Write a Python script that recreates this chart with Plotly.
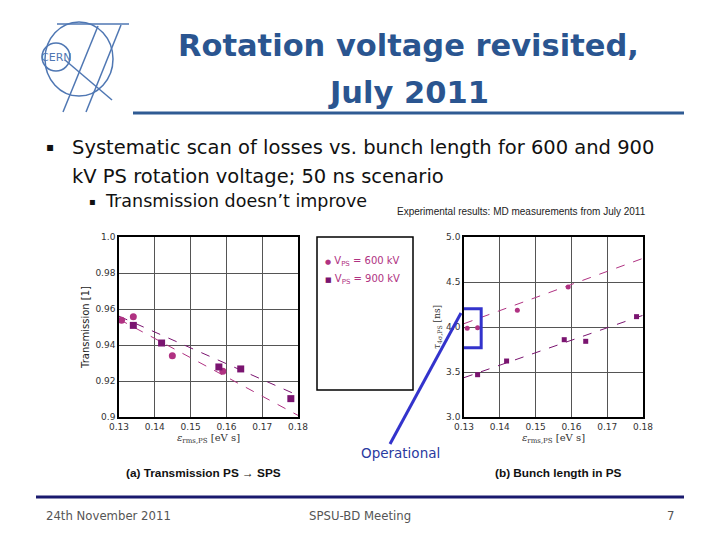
import numpy as np
import plotly.graph_objects as go

# ---------------- data ----------------
eps_600 = [0.1307, 0.1340, 0.1449, 0.1590]
trans_600 = [0.9537, 0.9557, 0.9340, 0.9254]
eps_900 = [0.1340, 0.1419, 0.1579, 0.1640, 0.1780]
trans_900 = [0.9509, 0.9411, 0.9278, 0.9267, 0.9102]

bl_eps_600 = [0.1309, 0.1338, 0.1449, 0.1591]
bl_600 = [3.985, 3.993, 4.185, 4.444]
bl_eps_900 = [0.1338, 0.1419, 0.1580, 0.1640, 0.1782]
bl_900 = [3.470, 3.622, 3.859, 3.841, 4.115]

# fitted trend lines
fit_x = [0.13, 0.18]
fit_trans_600 = [0.9543, 0.9009]
fit_trans_900 = [0.9560, 0.9120]
fit_bl_600 = [4.037, 4.763]
fit_bl_900 = [3.437, 4.130]

x_ticks = [0.13, 0.14, 0.15, 0.16, 0.17, 0.18]
x_ticklabels = ["0.13", "0.14", "0.15", "0.16", "0.17", "0.18"]
trans_ticks = [0.90, 0.92, 0.94, 0.96, 0.98, 1.0]
trans_ticklabels = ["0.9", "0.92", "0.94", "0.96", "0.98", "1.0"]
bl_ticks = [3.0, 3.5, 4.0, 4.5, 5.0]
bl_ticklabels = ["3.0", "3.5", "4.0", "4.5", "5.0"]

series_names = ["V<sub>PS</sub> = 600 kV", "V<sub>PS</sub> = 900 kV"]

# operational point box (data coords of right plot)
op_box_x = [0.1292, 0.1348]
op_box_y = [3.77, 4.204]

C600 = "#b03282"
C900 = "#7a1470"
W, H = 720, 540
OFF = 8  # page body margin


def px(x):
    return (x - OFF) / W


def py(y):
    return 1 - (y - OFF) / H


fig = go.Figure()

# left plot
fig.add_trace(go.Scatter(x=fit_x, y=fit_trans_600, mode="lines", line=dict(color=C600, dash="dash", width=1),
                         showlegend=False, xaxis="x", yaxis="y"))
fig.add_trace(go.Scatter(x=fit_x, y=fit_trans_900, mode="lines", line=dict(color=C900, dash="dash", width=1),
                         showlegend=False, xaxis="x", yaxis="y"))
fig.add_trace(go.Scatter(x=eps_600, y=trans_600, mode="markers", marker=dict(color=C600, size=7, symbol="circle"),
                         name=series_names[0], showlegend=False, xaxis="x", yaxis="y"))
fig.add_trace(go.Scatter(x=eps_900, y=trans_900, mode="markers", marker=dict(color=C900, size=7, symbol="square"),
                         name=series_names[1], showlegend=False, xaxis="x", yaxis="y"))

# right plot
fig.add_trace(go.Scatter(x=fit_x, y=fit_bl_600, mode="lines", line=dict(color=C600, dash="dash", width=1),
                         showlegend=False, xaxis="x2", yaxis="y2"))
fig.add_trace(go.Scatter(x=fit_x, y=fit_bl_900, mode="lines", line=dict(color=C900, dash="dash", width=1),
                         showlegend=False, xaxis="x2", yaxis="y2"))
fig.add_trace(go.Scatter(x=bl_eps_600, y=bl_600, mode="markers", marker=dict(color=C600, size=5, symbol="circle"),
                         name=series_names[0], showlegend=False, xaxis="x2", yaxis="y2"))
fig.add_trace(go.Scatter(x=bl_eps_900, y=bl_900, mode="markers", marker=dict(color=C900, size=5, symbol="square"),
                         name=series_names[1], showlegend=False, xaxis="x2", yaxis="y2"))

tickfont = dict(family="DejaVu Sans", size=9, color="#333")
axis_common = dict(showline=True, linecolor="black", linewidth=1.5, mirror=True, ticks="",
                   showgrid=True, gridcolor="#555", gridwidth=1, zeroline=False, tickfont=tickfont,
                   automargin=False)

fig.update_layout(
    width=W, height=H, margin=dict(l=0, r=0, t=0, b=0, autoexpand=False),
    paper_bgcolor="white", plot_bgcolor="white", showlegend=False,
    xaxis=dict(domain=[px(119), px(298)], range=[0.13, 0.18], tickvals=x_ticks, ticktext=x_ticklabels,
               anchor="y", title=dict(text="<i>ε</i><sub>rms,PS</sub> [eV s]", standoff=2,
                                      font=dict(family="DejaVu Serif", size=10, color="#333")),
               **axis_common),
    yaxis=dict(domain=[py(417), py(237)], range=[0.9, 1.0], tickvals=trans_ticks, ticktext=trans_ticklabels,
               anchor="x", title=dict(text="Transmission [1]", standoff=4,
                                      font=dict(family="DejaVu Sans", size=10, color="#222")),
               **axis_common),
    xaxis2=dict(domain=[px(464), px(643)], range=[0.13, 0.18], tickvals=x_ticks, ticktext=x_ticklabels,
                anchor="y2", title=dict(text="<i>ε</i><sub>rms,PS</sub> [eV s]", standoff=2,
                                        font=dict(family="DejaVu Serif", size=10, color="#333")),
                **axis_common),
    yaxis2=dict(domain=[py(417), py(237)], range=[3.0, 5.0], tickvals=bl_ticks, ticktext=bl_ticklabels,
                anchor="x2", title=dict(text="<i>τ</i><sub>4σ,PS</sub> [ns]", standoff=4,
                                        font=dict(family="DejaVu Serif", size=9, color="#333")),
                **axis_common),
)

shapes = []
# legend box
shapes.append(dict(type="rect", xref="paper", yref="paper", x0=px(317), x1=px(413), y0=py(390), y1=py(237),
                   line=dict(color="black", width=1.5)))
# operational box on right plot
shapes.append(dict(type="rect", xref="x2", yref="y2", x0=op_box_x[0], x1=op_box_x[1], y0=op_box_y[0],
                   y1=op_box_y[1], line=dict(color="#3333cc", width=3)))
# pointer line
shapes.append(dict(type="line", xref="paper", yref="paper", x0=px(461), y0=py(313), x1=px(390), y1=py(444),
                   line=dict(color="#3333cc", width=3)))
# title underline
shapes.append(dict(type="line", xref="paper", yref="paper", x0=px(133), y0=py(113), x1=px(684), y1=py(113),
                   line=dict(color="#2f5b93", width=3)))
# footer line
shapes.append(dict(type="line", xref="paper", yref="paper", x0=px(36), y0=py(497), x1=px(684), y1=py(497),
                   line=dict(color="#1a1a6e", width=3)))
# CERN logo (approximation)
logo_c = "#4f77b3"
shapes.append(dict(type="circle", xref="paper", yref="paper", x0=px(42), x1=px(70), y0=py(71), y1=py(43),
                   line=dict(color=logo_c, width=1.5)))
shapes.append(dict(type="circle", xref="paper", yref="paper", x0=px(45), x1=px(113), y0=py(96), y1=py(22),
                   line=dict(color=logo_c, width=1.5)))
shapes.append(dict(type="line", xref="paper", yref="paper", x0=px(57), y0=py(24), x1=px(129), y1=py(24),
                   line=dict(color=logo_c, width=1.5)))
shapes.append(dict(type="line", xref="paper", yref="paper", x0=px(121), y0=py(25), x1=px(86), y1=py(112),
                   line=dict(color=logo_c, width=1.5)))
shapes.append(dict(type="line", xref="paper", yref="paper", x0=px(98), y0=py(26), x1=px(63), y1=py(112),
                   line=dict(color=logo_c, width=1.5)))
shapes.append(dict(type="line", xref="paper", yref="paper", x0=px(65), y0=py(60), x1=px(112), y1=py(100),
                   line=dict(color=logo_c, width=1.5)))
fig.update_layout(shapes=shapes)

ann = []


def text(x, y, s, size, color="#000", family="DejaVu Sans", xanchor="left", bold=False):
    if bold:
        s = "<b>" + s + "</b>"
    ann.append(dict(x=px(x), y=py(y), xref="paper", yref="paper", text=s, showarrow=False,
                    xanchor=xanchor, yanchor="middle", font=dict(family=family, size=size, color=color)))


# legend (drawn inside the box)
text(323, 262, "<span style='color:%s;font-size:7px'>●</span> %s" % (C600, series_names[0]), 10, C600)
text(323, 279, "<span style='color:%s;font-size:7px'>■</span> %s" % (C900, series_names[1]), 10, C600)

text(56, 57, "CERN", 11, logo_c, xanchor="center")
text(408, 45, "Rotation voltage revisited,", 30.5, "#2a5590", xanchor="center", bold=True)
text(408, 92, "July 2011", 30.5, "#2a5590", xanchor="center", bold=True)
text(44, 147, "▪", 12, "#111")
text(70, 147, "Systematic scan of losses vs. bunch length for 600 and 900", 19.5, "#111")
text(70, 177, "kV PS rotation voltage; 50 ns scenario", 19.5, "#111")
text(87, 201, "▪", 10, "#111")
text(103, 201, "Transmission doesn’t improve", 17.5, "#111")
text(521, 211, "Experimental results: MD measurements from July 2011", 10, "#222",
     family="Liberation Sans Narrow, Liberation Sans", xanchor="center")
text(401, 453, "Operational", 13.5, "#2a3aa0", xanchor="center")
text(204, 473, "(a) Transmission PS → SPS", 11.8, "#111",
     family="Liberation Sans Narrow, Liberation Sans", xanchor="center", bold=True)
text(558, 473, "(b) Bunch length in PS", 11.8, "#111",
     family="Liberation Sans Narrow, Liberation Sans", xanchor="center", bold=True)
text(44, 516, "24th November 2011", 11.7, "#555")
text(360, 516, "SPSU-BD Meeting", 11.7, "#555", xanchor="center")
text(676, 516, "7", 11.7, "#555", xanchor="right")
fig.update_layout(annotations=ann)

fig.write_html("out.html")
